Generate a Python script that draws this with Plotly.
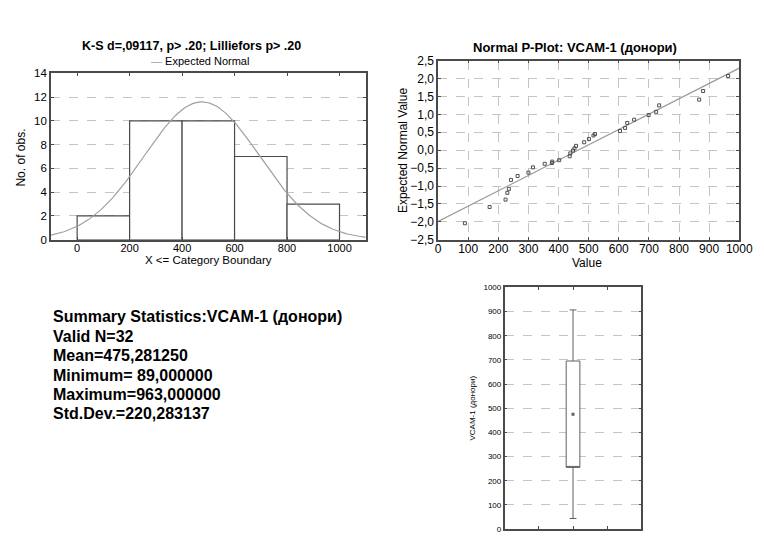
import numpy as np
import plotly.graph_objects as go

# ---------------- data ----------------
bin_left = [0, 200, 400, 600, 800]
bin_counts = [2, 10, 10, 7, 3]
bin_width = 200

n_valid = 32
mean_val = 475.281250
min_val = 89.0
max_val = 963.0
sd_val = 220.283137

pp_values = [89, 171, 224, 230, 235, 242, 264, 300, 315, 354, 378, 379, 402, 437, 439, 448,
             453, 458, 485, 501, 516, 521, 604, 621, 628, 651, 699, 724, 734, 867, 880, 963]
pp_expected = [-2.04, -1.585, -1.38, -1.19, -1.08, -0.83, -0.72, -0.625, -0.48, -0.38, -0.36,
               -0.32, -0.28, -0.17, -0.09, -0.01, 0.05, 0.12, 0.22, 0.31, 0.41, 0.45, 0.535,
               0.62, 0.76, 0.85, 0.98, 1.07, 1.25, 1.41, 1.65, 2.07]
fit_x = [0, 1000]
fit_y = [-1.99, 2.29]

stat_lines = [
    "Summary Statistics:VCAM-1 (донори)",
    "Valid N=32",
    "Mean=475,281250",
    "Minimum= 89,000000",
    "Maximum=963,000000",
    "Std.Dev.=220,283137",
]

# ---------------- figure ----------------
W, H = 764, 536
FONT = "Liberation Sans, Arial, sans-serif"
AX = "#4a4a4a"
GRID = "#c4c4c4"

def px_x(p):
    return p / W

def px_y(p):
    return 1 - p / H

fig = go.Figure()

# Histogram
centers = [b + bin_width / 2 for b in bin_left]
fig.add_trace(go.Bar(x=centers, y=bin_counts, width=bin_width,
                     marker=dict(color="white", line=dict(color="#4a4a4a", width=1.2)),
                     xaxis="x", yaxis="y", showlegend=False))
cx = np.linspace(-100, 1100, 241)
cy = n_valid * bin_width * np.exp(-0.5 * ((cx - mean_val) / sd_val) ** 2) / (sd_val * np.sqrt(2 * np.pi))
fig.add_trace(go.Scatter(x=cx, y=cy, mode="lines", line=dict(color="#a0a0a0", width=1.2),
                         xaxis="x", yaxis="y", showlegend=False))

# Normal P-plot
fig.add_trace(go.Scatter(x=fit_x, y=fit_y, mode="lines", line=dict(color="#9a9a9a", width=1.2),
                         xaxis="x2", yaxis="y2", showlegend=False))
fig.add_trace(go.Scatter(x=pp_values, y=pp_expected, mode="markers",
                         marker=dict(symbol="square-open", size=3, color="#505050", line=dict(width=1)),
                         xaxis="x2", yaxis="y2", showlegend=False))

# Box plot: mean +/- SD box, mean +/- 1.96*SD whiskers
fig.add_trace(go.Box(x=[2], q1=[mean_val - sd_val], median=[mean_val - sd_val],
                     q3=[mean_val + sd_val], lowerfence=[mean_val - 1.96 * sd_val],
                     upperfence=[mean_val + 1.96 * sd_val], width=0.4, whiskerwidth=0.5,
                     fillcolor="white", line=dict(color="#606060", width=1),
                     boxpoints=False, xaxis="x3", yaxis="y3", showlegend=False))
fig.add_trace(go.Scatter(x=[2], y=[mean_val], mode="markers",
                         marker=dict(symbol="square", size=3, color="#606060"),
                         xaxis="x3", yaxis="y3", showlegend=False))

def axstyle(size):
    return dict(showline=True, linecolor=AX, linewidth=1.5, mirror="ticks", ticks="inside",
                ticklen=3, tickcolor=AX, zeroline=False, ticklabeloverflow="allow",
                tickfont=dict(family=FONT, size=size, color="black"))

fig.update_layout(
    width=W, height=H, margin=dict(l=0, r=0, t=0, b=0),
    paper_bgcolor="white", plot_bgcolor="white", hovermode=False,
    separators=", ", font=dict(family=FONT, color="black"),
    xaxis=dict(domain=[px_x(49), px_x(371)], range=[-100, 1100], tickvals=[0, 200, 400, 600, 800, 1000],
               showgrid=False, ticklabelstandoff=-3, **axstyle(11)),
    yaxis=dict(domain=[px_y(239), px_y(68)], range=[0, 14], dtick=2, showgrid=True,
               gridcolor=GRID, griddash="dash", gridwidth=1, **axstyle(11.5)),
    xaxis2=dict(domain=[px_x(445), px_x(753)], range=[0, 1000], dtick=100, showgrid=True,
                gridcolor=GRID, griddash="dash", anchor="y2", ticklabelstandoff=-3, **axstyle(12)),
    yaxis2=dict(domain=[px_y(239), px_y(55)], range=[-2.5, 2.5], dtick=0.5, tickformat=".1f",
                showgrid=True, gridcolor=GRID, griddash="dash", anchor="x2", **axstyle(12)),
    xaxis3=dict(domain=[px_x(513), px_x(653)], range=[0, 4], tickvals=[1, 2, 3], showticklabels=False,
                showgrid=False, anchor="y3", **axstyle(8)),
    yaxis3=dict(domain=[0, px_y(288)], range=[0, 1000], dtick=100, showgrid=True,
                gridcolor=GRID, griddash="dash", anchor="x3", **axstyle(8)),
)

ann = []
ann.append(dict(text="<b>K-S d=,09117, p> .20; Lilliefors p> .20</b>", x=px_x(193), y=px_y(40),
                font=dict(size=12.5)))
ann.append(dict(text="<span style='color:#a0a0a0'>—</span> Expected Normal", x=px_x(201), y=px_y(55),
                font=dict(size=11)))
ann.append(dict(text="X <= Category Boundary", x=px_x(210), y=px_y(260), font=dict(size=11.5)))
ann.append(dict(text="No. of obs.", x=px_x(18), y=px_y(155), textangle=-90, font=dict(size=12)))
ann.append(dict(text="<b>Normal P-Plot: VCAM-1 (донори)</b>", x=px_x(585), y=px_y(42), font=dict(size=13)))
ann.append(dict(text="Value", x=px_x(597), y=px_y(263), font=dict(size=12)))
ann.append(dict(text="Expected Normal Value", x=px_x(409), y=px_y(147), textangle=-90, font=dict(size=12)))
ann.append(dict(text="VCAM-1 (донори)", x=px_x(480), y=px_y(412), textangle=-90, font=dict(size=8)))
line_y = [318, 338, 358, 378, 398, 417]
for t, yy in zip(stat_lines, line_y):
    ann.append(dict(text="<b>" + t + "</b>", x=px_x(49), y=px_y(yy), xanchor="left", font=dict(size=16)))
for a in ann:
    a.setdefault("xanchor", "center")
    a.update(xref="paper", yref="paper", yanchor="middle", showarrow=False)
    a["font"] = dict(family=FONT, color="black", **a["font"])
fig.update_layout(annotations=ann)

fig.write_html("out.html", config={"displayModeBar": False},
               post_script="document.body.style.margin='0';")
